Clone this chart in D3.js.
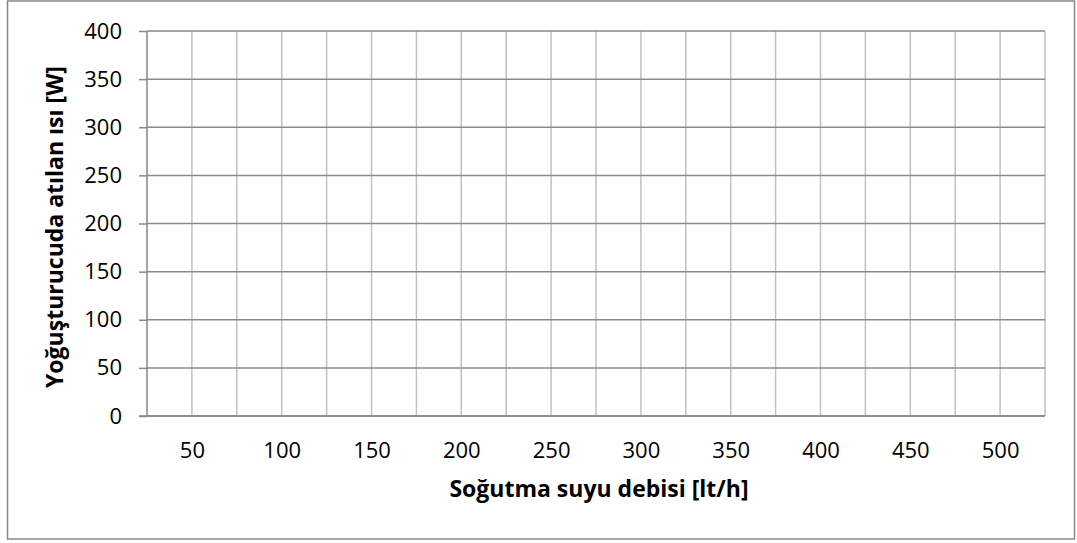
<!DOCTYPE html>
<html>
<head>
<meta charset="utf-8">
<script src="https://cdn.jsdelivr.net/npm/d3@7"></script>
<style>
  body { margin: 0; background: #fff; }
  text { font-family: "Open Sans", "Noto Sans", sans-serif; fill: #000; }
</style>
</head>
<body>
<div id="chart"></div>
<script>
// axis ranges and ticks (the chart has no series plotted)
const xDomain = [25, 525];
const xGrid = [50, 75, 100, 125, 150, 175, 200, 225, 250, 275, 300, 325, 350, 375, 400, 425, 450, 475, 500, 525];
const xLabels = [50, 100, 150, 200, 250, 300, 350, 400, 450, 500];
const yDomain = [0, 400];
const yTicks = [0, 50, 100, 150, 200, 250, 300, 350, 400];
const xTitle = "Soğutma suyu debisi [lt/h]";
const yTitle = "Yoğuşturucuda atılan ısı [W]";

const W = 1077, H = 543;
const margin = {top: 31, right: 32, bottom: 127, left: 147};
const width = W - margin.left - margin.right;
const height = H - margin.top - margin.bottom;

const svg = d3.select("#chart")
    .append("svg")
    .attr("width", W)
    .attr("height", H);

// chart area border
svg.append("rect")
    .attr("x", 7.5).attr("y", 1)
    .attr("width", 1067).attr("height", 538)
    .attr("fill", "#fff")
    .attr("stroke", "#888")
    .attr("stroke-width", 1.5);

const g = svg.append("g")
    .attr("transform", `translate(${margin.left},${margin.top})`);

const x = d3.scaleLinear().domain(xDomain).range([0, width]);
const y = d3.scaleLinear().domain(yDomain).range([height, 0]);

// vertical gridlines (lighter)
g.append("g")
    .selectAll("line")
    .data(xGrid)
    .join("line")
    .attr("x1", d => x(d)).attr("x2", d => x(d))
    .attr("y1", 0).attr("y2", height)
    .attr("stroke", "#c0c0c0")
    .attr("stroke-width", 1.5);

// y axis labels with outward ticks
const yAxis = g.append("g")
    .call(d3.axisLeft(y).tickValues(yTicks).tickSize(8).tickPadding(17));
yAxis.select(".domain").remove();
yAxis.selectAll(".tick line").attr("stroke", "#8a8a8a").attr("stroke-width", 1.5);
yAxis.selectAll(".tick text").style("font-size", "22px");

// horizontal gridlines
g.append("g")
    .selectAll("line")
    .data(yTicks)
    .join("line")
    .attr("x1", 0).attr("x2", width)
    .attr("y1", d => y(d)).attr("y2", d => y(d))
    .attr("stroke", "#8a8a8a")
    .attr("stroke-width", 1.5);

// y axis line
g.append("line")
    .attr("x1", 0).attr("x2", 0)
    .attr("y1", 0).attr("y2", height)
    .attr("stroke", "#868686")
    .attr("stroke-width", 1.5);

// x axis labels, no tick marks
const xAxis = g.append("g")
    .attr("transform", `translate(0,${height})`)
    .call(d3.axisBottom(x).tickValues(xLabels).tickSize(0).tickPadding(26));
xAxis.select(".domain").remove();
xAxis.selectAll(".tick text").style("font-size", "22px");

// x axis line extends left to meet the tick
g.append("line")
    .attr("x1", -8).attr("x2", width)
    .attr("y1", height).attr("y2", height)
    .attr("stroke", "#868686")
    .attr("stroke-width", 1.5);

// titles
svg.append("text")
    .attr("x", 599)
    .attr("y", 497)
    .attr("text-anchor", "middle")
    .style("font-size", "23px")
    .style("font-weight", "bold")
    .text(xTitle);

svg.append("text")
    .attr("transform", "translate(63,227) rotate(-90)")
    .attr("text-anchor", "middle")
    .style("font-size", "23px")
    .style("font-weight", "bold")
    .text(yTitle);
</script>
</body>
</html>
